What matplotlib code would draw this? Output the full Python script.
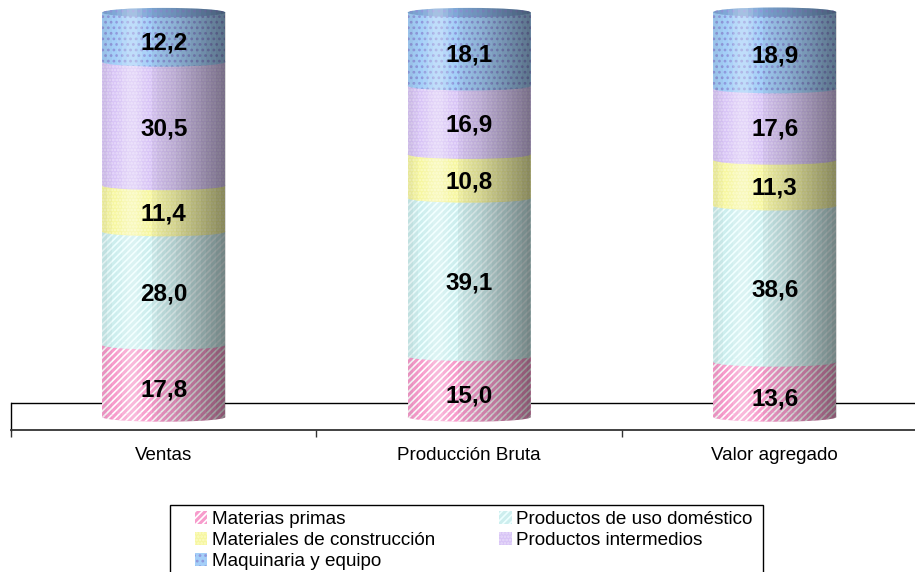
import numpy as np
import matplotlib
matplotlib.use('Agg')
import matplotlib.pyplot as plt
from matplotlib.patches import Ellipse, Polygon, Rectangle

CATEGORIES = ['Ventas', 'Producción Bruta', 'Valor agregado']
SERIES = ['Materias primas', 'Productos de uso doméstico',
          'Materiales de construcción', 'Productos intermedios',
          'Maquinaria y equipo']
MATERIAS = [17.8, 15.0, 13.6]
DOMESTICO = [28.0, 39.1, 38.6]
CONSTRUCCION = [11.4, 10.8, 11.3]
INTERMEDIOS = [30.5, 16.9, 17.6]
MAQUINARIA = [12.2, 18.1, 18.9]

FACES = ['#f79ccc', '#cdeeee', '#f6f6a0', '#d8c4f6', '#a4cff8']
HATCH_COLORS = ['#ffffff', '#eeffff', '#fcfcc4', '#e8dcfa', '#8f98dc']
HATCHES = ['/////', '/////', '.....', '.....', '...']
LABEL_SHIFT = [2.3, 1.5, 1.4, 1.2, 1.4]  # labels sit a bit low on the cylinders

WIDTH = 0.403
RY = 1.15  # half height of the ellipses, in data units

plt.rcParams['font.family'] = ['Liberation Sans', 'DejaVu Sans']
plt.rcParams['hatch.linewidth'] = 1.2

fig = plt.figure(figsize=(9.15, 5.72), dpi=100)
ax = fig.add_axes([11 / 915, (572 - 430) / 572, 916.5 / 915, 430 / 572])
ax.set_xlim(0, 3)
ax.set_ylim(-3.2, 103)
ax.patch.set_visible(False)

for s in ['top', 'right']:
    ax.spines[s].set_visible(False)
ax.spines['left'].set_bounds(-3.2, 3.46)
ax.spines['left'].set_linewidth(1)
ax.spines['bottom'].set_linewidth(1.3)
ax.spines['bottom'].set_color('#333333')
ax.axhline(3.46, color='black', lw=1, zorder=1)

ax.set_yticks([])
ax.set_xticks([0, 1, 2, 3])
ax.set_xticklabels([])
ax.tick_params(axis='x', length=5, width=1, color='#333333')
xs = np.arange(len(CATEGORIES)) + 0.5
ax.set_xticks(xs, CATEGORIES, minor=True)
ax.tick_params(axis='x', which='minor', length=0, labelsize=13.5, pad=12)

values = [MATERIAS, DOMESTICO, CONSTRUCCION, INTERMEDIOS, MAQUINARIA]
bottoms = np.zeros(len(CATEGORIES))
handles = []
z = 2
for name, vals, face, hc, hatch in zip(SERIES, values, FACES, HATCH_COLORS, HATCHES):
    bars = ax.bar(xs, vals, WIDTH, bottom=bottoms, facecolor=face, edgecolor=hc,
                  hatch=hatch, linewidth=0, label=name, zorder=z)
    handles.append(bars)
    # round front edge of each piece
    for x, b in zip(xs, bottoms):
        ax.add_patch(Ellipse((x, b), WIDTH, 2 * RY, facecolor=face, edgecolor=hc,
                             hatch=hatch, linewidth=0, zorder=z))
    bottoms = bottoms + np.array(vals)
    z += 1

# top cap and the lighting of the cylinders: + is white, - is black
profile = np.array([-.06, -.03, 0, .10, .22, .30, .30, .20, .08, 0, -.05, -.08, -.10, -.12,
                    -.14, -.17, -.20, -.23, -.26, -.29, -.32, -.35, -.38, -.41, -.44])
rgba = np.zeros((1, len(profile), 4))
rgba[..., :3] = (profile > 0)[None, :, None] * 1.0
rgba[..., 3] = np.abs(profile)
t = np.linspace(0, np.pi, 60)
for x, top in zip(xs, bottoms):
    ax.add_patch(Ellipse((x, top), WIDTH, 2 * RY, facecolor='#7fa8d6', edgecolor='#8f98dc',
                         hatch='...', linewidth=0, zorder=z))
    outline = np.vstack([
        np.column_stack([x + WIDTH / 2 * np.cos(t), top + RY * np.sin(t)]),
        np.column_stack([x - WIDTH / 2 * np.cos(t), -RY * np.sin(t)]),
    ])
    im = ax.imshow(rgba, extent=(x - WIDTH / 2, x + WIDTH / 2, -RY, top + RY),
                   aspect='auto', interpolation='nearest', zorder=z + 1)
    im.set_clip_path(Polygon(outline, transform=ax.transData))

ax.set_xlim(0, 3)
ax.set_ylim(-3.2, 103)

# value labels
bottoms = np.zeros(len(CATEGORIES))
for vals, shift in zip(values, LABEL_SHIFT):
    for x, b, v in zip(xs, bottoms, vals):
        ax.text(x, b + v / 2 - shift, f'{v:.1f}'.replace('.', ','), ha='center',
                va='center', fontsize=17.5, fontweight='bold', color='black', zorder=z + 2)
    bottoms = bottoms + np.array(vals)

# legend frame runs off the bottom of the picture
fig.add_artist(Rectangle((169.5 / 915, -10 / 572), 593 / 915, (572 + 10 - 504.5) / 572,
                         transform=fig.transFigure, facecolor='white',
                         edgecolor='black', lw=1))
order = [0, 2, 4, 1, 3]
fig.legend(handles=[handles[i] for i in order], ncol=2, loc='upper left',
           bbox_to_anchor=(195 / 915, 1 - 511 / 572), fontsize=13.6, frameon=False,
           borderaxespad=0, borderpad=0, labelspacing=0.22, handlelength=0.65,
           handleheight=0.65, handletextpad=0.25, columnspacing=3.4)

fig.savefig('out.png', dpi=100)
